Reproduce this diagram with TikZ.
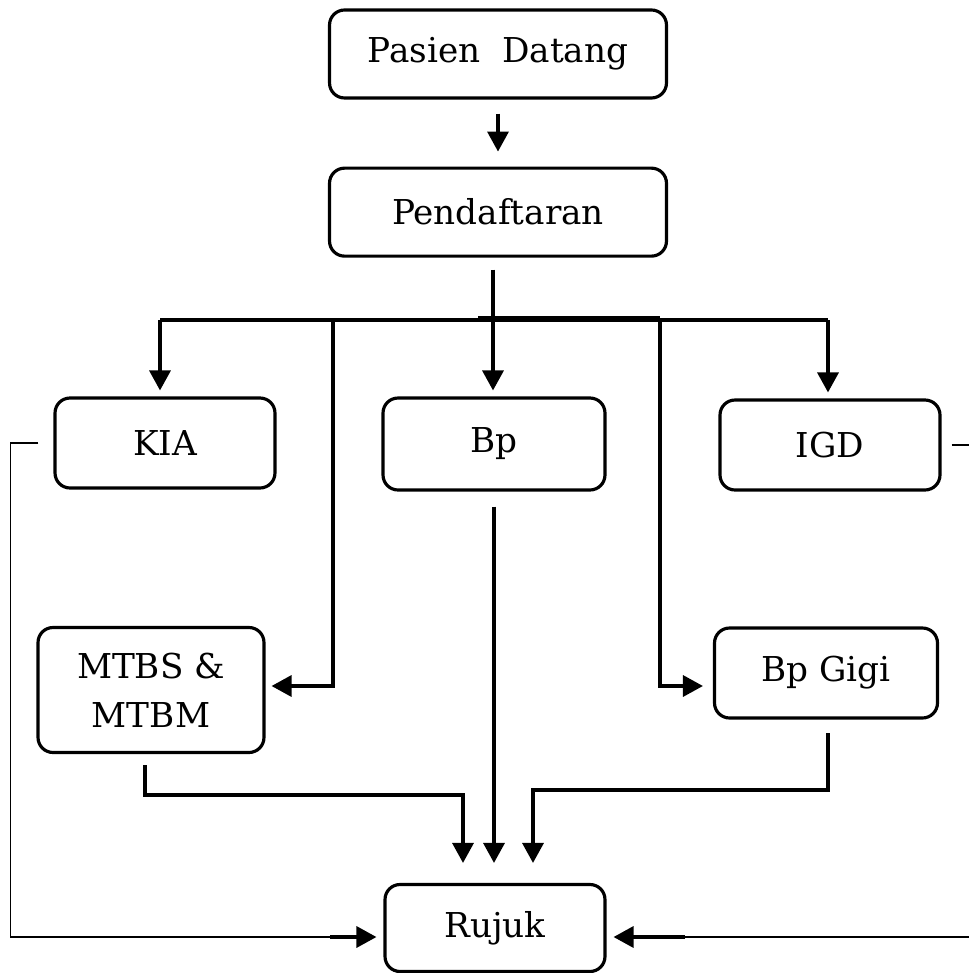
\documentclass[tikz,border=0pt]{standalone}
\usepackage{fontspec}
\setmainfont{DejaVu Serif}
\usetikzlibrary{arrows.meta, positioning}

\begin{document}
\begin{tikzpicture}[
    x=0.02cm, y=-0.02cm,
    box/.style={rectangle, draw, line width=1.8pt, rounded corners=0.3cm, minimum width=4.4cm, minimum height=1.8cm, align=center, font=\fontsize{19.5}{28}\selectfont},
    link/.style={line width=1.9pt},
    side link/.style={line width=0.9pt},
    >={Triangle[length=0.4cm, width=0.42cm]}
  ]
  \useasboundingbox (0,0) rectangle (968,973);

  % Top
  \node[box, minimum width=6.74cm, minimum height=1.76cm] (pasien) at (498,54) {Pasien\ \ Datang};
  \node[box, minimum width=6.74cm, minimum height=1.76cm, below=1.34cm of pasien] (daftar) {Pendaftaran};

  % Units
  \node[box] (kia) at (165,443) {KIA};
  \node[box, minimum width=4.44cm, minimum height=1.84cm] (bp) at (494,444) {Bp};
  \node[box] (igd) at (830,445) {IGD};
  \node[box, minimum width=4.52cm, minimum height=2.5cm] (mtbs) at (151,690) {MTBS \&\\MTBM};
  \node[box, minimum width=4.46cm] (gigi) at (826,673) {Bp Gigi};

  % Referral
  \node[box, minimum height=1.74cm] (rujuk) at (495,928) {Rujuk};

  % Bus points
  \coordinate (bus) at (493,320);
  \coordinate (bkia) at (160,320);
  \coordinate (bmtbs) at (333,320);
  \coordinate (bgigi) at (660,320);
  \coordinate (bigd) at (828,320);

  % Connections
  \draw[link, ->, shorten <=0.28cm, shorten >=0.3cm] (pasien) -- (daftar);
  \draw[link] ([yshift=-0.24cm]daftar.south -| bus) -- (bus);
  \draw[link] (bkia) -- (bigd);
  \draw[line width=2.8pt] (478,318.5) -- (bgigi |- 0,318.5);
  \draw[link, ->, shorten >=0.12cm] (bkia) -- (bkia |- kia.north);
  \draw[link, ->, shorten >=0.12cm] (bus) -- (bus |- bp.north);
  \draw[link, ->, shorten >=0.12cm] (bigd) -- (bigd |- igd.north);
  \draw[link, ->, shorten >=0.12cm] (bmtbs) |- ([yshift=0.08cm]mtbs.east);
  \draw[link, ->, shorten >=0.2cm] (bgigi) |- ([yshift=-0.26cm]gigi.west);

  % To Rujuk
  \coordinate (mout) at (145,765);
  \coordinate (rjl) at (463,795);
  \coordinate (gout) at (828,733);
  \coordinate (rjr) at (533,790);
  \draw[link, ->, shorten >=0.4cm] (mout) |- (rjl) -- (rjl |- rujuk.north);
  \draw[link, ->, shorten <=0.3cm, shorten >=0.4cm] (bp) -- (bp |- rujuk.north);
  \draw[link, ->, shorten >=0.4cm] (gout) |- (rjr) -- (rjr |- rujuk.north);

  % Side lines
  \coordinate (kl) at (330,937);
  \coordinate (ir) at (685,937);
  \draw[side link] ([xshift=-0.3cm]kia.west) -- ++(-28,0) |- (kl);
  \draw[link, ->, shorten >=0.14cm] (kl) -- (rujuk.west |- kl);
  \draw[side link] ([xshift=0.2cm]igd.east) -- ++(32,0) |- (ir);
  \draw[link, ->, shorten >=0.14cm] (ir) -- (rujuk.east |- ir);

\end{tikzpicture}
\end{document}
